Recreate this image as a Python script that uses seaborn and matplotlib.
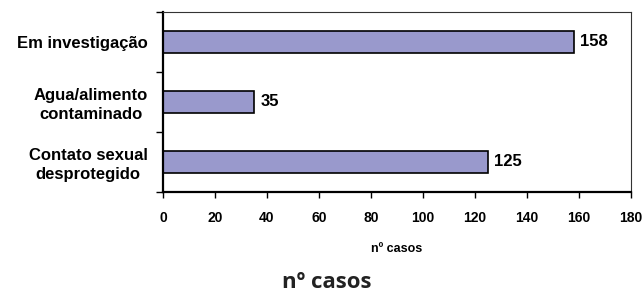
import numpy as np
import pandas as pd
import seaborn as sns
from matplotlib import pyplot as plt

categorias = ['Em investigação', 'Agua/alimento\ncontaminado', 'Contato sexual\ndesprotegido']
casos = [158, 35, 125]
xticks = [0, 20, 40, 60, 80, 100, 120, 140, 160, 180]

df = pd.DataFrame({'categoria': categorias, 'casos': casos})

sns.set_style('white')
plt.rcParams['font.family'] = ['Liberation Sans', 'DejaVu Sans']
plt.rcParams['text.color'] = 'black'
plt.rcParams['axes.labelcolor'] = 'black'
plt.rcParams['xtick.color'] = 'black'
plt.rcParams['ytick.color'] = 'black'

fig = plt.figure(figsize=(6.43, 2.96), dpi=100)
ax = fig.add_axes([0.2535, 0.3514, 0.7278, 0.6081])

sns.barplot(data=df, x='casos', y='categoria', orient='h', ax=ax,
            color='#9999cc', saturation=1, width=0.38,
            edgecolor='black', linewidth=1.2)

# rótulos de valor
for i, v in enumerate(casos):
    ax.text(v + 2.5, i, str(v), va='center', ha='left',
            fontsize=12, fontweight='bold')

ax.set_xlim(0, 180)
ax.set_ylim(2.5, -0.5)
ax.set_xticks(xticks)
ax.set_xticklabels([str(t) for t in xticks], fontsize=10, fontweight='bold')
ax.tick_params(axis='x', direction='out', length=4, width=1, pad=10,
               bottom=True)

# ticks do eixo y nos limites das categorias
ax.set_yticks(range(len(categorias)))
ax.set_yticklabels(categorias, fontsize=12, fontweight='bold',
                   linespacing=1.3, multialignment='center')
ax.set_yticks([-0.5, 0.5, 1.5, 2.5], minor=True)
ax.tick_params(axis='y', which='major', length=0, pad=11)
ax.tick_params(axis='y', which='minor', direction='out', length=5,
               width=1, left=True)

ax.set_xlabel('nº casos', fontsize=9, fontweight='bold', labelpad=13)
ax.set_ylabel('')

for s in ['left', 'bottom']:
    ax.spines[s].set_color('black')
    ax.spines[s].set_linewidth(1.6)
for s in ['top', 'right']:
    ax.spines[s].set_visible(True)
    ax.spines[s].set_color('#333333')
    ax.spines[s].set_linewidth(0.8)

fig.text(0.508, 0.045, 'nº casos', ha='center', va='center',
         fontsize=16, fontweight='bold', family=['Open Sans', 'DejaVu Sans'],
         color='#222222')

fig.savefig('out.png', dpi=100)
